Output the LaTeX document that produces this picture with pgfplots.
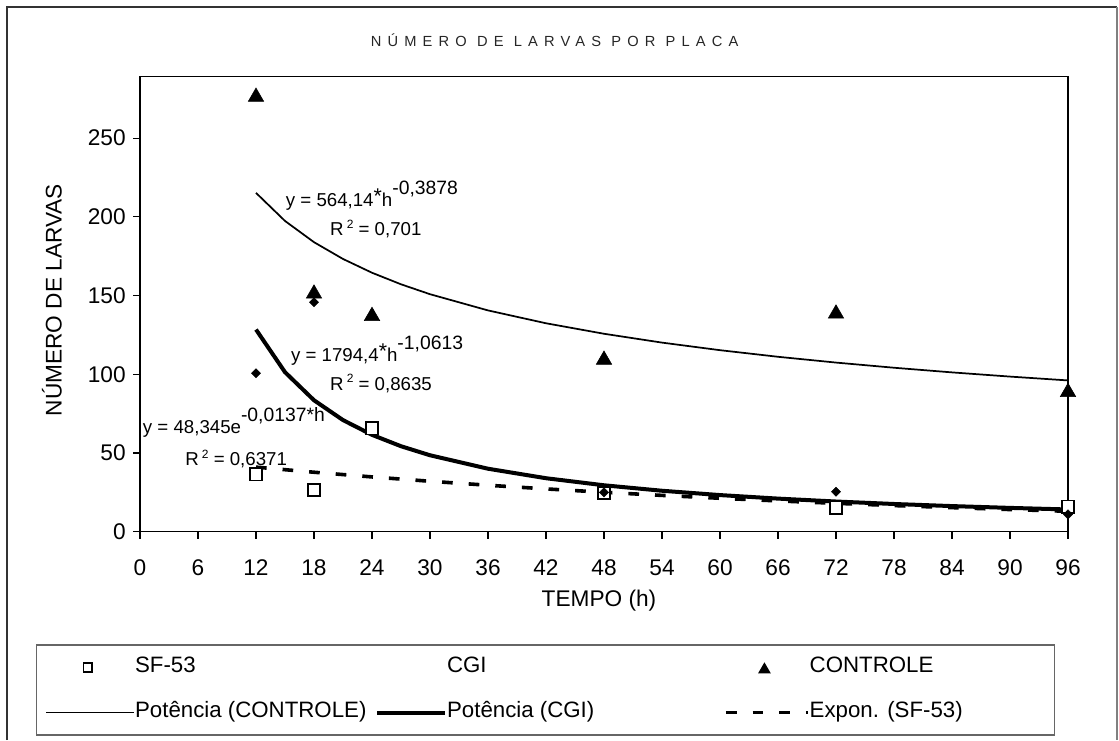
\documentclass[border=0pt]{standalone}
\usepackage{fontspec}
\setmainfont{Liberation Sans}
\usepackage{pgfplots}
\pgfplotsset{compat=1.18}

\newcommand{\eqfont}{\fontsize{14}{16}\selectfont}
\newcommand{\supfont}{\fontsize{14.5}{16}\selectfont}
\newcommand{\rsq}[1]{R\,\raisebox{5.5pt}{\fontsize{9}{10}\selectfont 2} = #1}
\newcommand{\pw}[2]{y = #1\raisebox{2.5pt}{\fontsize{16}{16}\selectfont*}h\raisebox{9.3pt}{\supfont #2}}

% legend images (widths follow the reference legend columns)
\pgfplotsset{
  legline/.style={legend image code/.code={\draw[##1] (0pt,0pt) -- (#1,0pt);}},
  legmark/.style 2 args={legend image code/.code={\path[draw=none] (0pt,0pt) -- (#1,0pt);
    \draw[##1, mark size=#2] plot coordinates {(0.47*#1,0pt)};}},
  legnone/.style={legend image code/.code={}},
}

\begin{document}
\begin{tikzpicture}
\path[use as bounding box] (0,0) rectangle (839.25pt,-555pt);
% chart frame
\draw[line width=1pt, black!80] (5.25pt,-555pt) -- (5.25pt,-5.25pt) -- (837.75pt,-5.25pt);
\draw[line width=1pt, black!50] (837.75pt,-5.25pt) -- (837.75pt,-555pt);
\node[font=\fontsize{11}{13}\selectfont\addfontfeatures{LetterSpace=42}, text=black!85]
  at (416pt,-30pt) {NÚMERO DE LARVAS POR PLACA};

\begin{axis}[
  at={(105pt,-398.775pt)}, anchor=south west,
  scale only axis, width=696pt, height=341.25pt,
  xmin=0, xmax=96, ymin=0, ymax=289,
  xtick={0,6,...,96}, ytick={0,50,...,250},
  tick align=outside, xtick pos=bottom, ytick pos=left,
  major tick length=5.25pt,
  tick style={black, line width=0.8pt},
  axis line style={black, line width=0.8pt},
  /pgf/number format/assume math mode=true,
  ticklabel style={font=\fontsize{17}{20}\selectfont},
  xticklabel style={yshift=-12pt},
  yticklabel style={xshift=-2pt},
  xlabel={TEMPO (h)}, ylabel={NÚMERO DE LARVAS},
  label style={font=\fontsize{17}{20}\selectfont},
  xlabel style={at={(axis description cs:0.4946,-0.152)}, anchor=center},
  ylabel style={at={(axis description cs:-0.0948,0.509)}, anchor=center},
  legend columns=3,
  legend cell align=left,
  legend style={at={(axis description cs:0.437,-0.3479)}, anchor=center,
    draw=black!60, line width=0.8pt, inner xsep=6.75pt, inner ysep=0pt,
    /tikz/column sep=0pt, /tikz/row sep=0pt,
    nodes={inner xsep=0pt, inner ysep=8.875pt, text height=12pt, text depth=4pt,
      anchor=west, font=\fontsize{16.7}{19}\selectfont}},
]
% trend lines
\addplot[forget plot, black, line width=1.3pt] coordinates {
  (12,215.22) (15,197.38) (18,183.90) (21,173.24) (24,164.49) (27,157.15)
  (30,150.86) (36,140.56) (42,132.40) (48,125.73) (54,120.11) (60,115.30)
  (66,111.11) (72,107.43) (78,104.15) (84,101.20) (90,98.53) (96,96.09)};
\addplot[forget plot, black, line width=3pt] coordinates {
  (12,128.41) (15,101.33) (18,83.50) (21,70.90) (24,61.53) (27,54.30)
  (30,48.56) (36,40.01) (42,33.98) (48,29.49) (54,26.02) (60,23.27)
  (66,21.03) (72,19.18) (78,17.61) (84,16.28) (90,15.13) (96,14.13)};
\addplot[forget plot, black, line width=2.7pt, dash pattern=on 8pt off 12pt] coordinates {
  (12,41.02) (18,37.78) (24,34.80) (30,32.05) (36,29.52) (42,27.19)
  (48,25.05) (54,23.07) (60,21.25) (66,19.57) (72,18.03) (78,16.61)
  (84,15.30) (90,14.09) (96,12.98)};

% data points
\addplot[only marks, mark=square*, mark size=4.6pt, line width=1.2pt,
  mark options={fill=white, draw=black}, legmark={66pt}{3.2pt}]
  coordinates {(12,36.5) (18,26.5) (24,65.7) (48,24.5) (72,15.3) (96,15.9)};
\addlegendentry{\makebox[180pt][l]{SF-53}}
\addplot[only marks, mark=diamond*, mark size=3.4pt,
  mark options={fill=black, draw=black, xscale=1.33}, legnone]
  coordinates {(12,100.7) (18,145.8) (48,25) (72,25.4) (96,11)};
\addlegendentry{\makebox[207.75pt][l]{CGI}}
\addplot[only marks, mark=triangle*, mark size=6.7pt,
  mark options={fill=black, draw=black, yshift=-1.6pt}, legmark={61.5pt}{4.7pt}]
  coordinates {(12,277.5) (18,152.5) (24,138.3) (48,110.5) (72,139.8) (96,90)};
\addlegendentry{\makebox[177pt][l]{CONTROLE}}
\addlegendimage{black, line width=1.3pt, legline=66pt}
\addlegendentry{\makebox[180pt][l]{Potência (CONTROLE)}}
\addlegendimage{black, line width=3pt, legline=51pt}
\addlegendentry{\makebox[207.75pt][l]{Potência (CGI)}}
\addlegendimage{black, line width=2.7pt, dash pattern=on 8pt off 12pt, legline=61.5pt}
\addlegendentry{\makebox[177pt][l]{Expon. (SF-53)}}

% trend line equations
\node[anchor=base west, inner sep=0pt, font=\eqfont] at (axis cs:15.07,206.5)
  {\pw{564,14}{-0,3878}};
\node[anchor=base west, inner sep=0pt, font=\eqfont] at (axis cs:19.65,187.9)
  {\rsq{0,701}};
\node[anchor=base west, inner sep=0pt, font=\eqfont] at (axis cs:15.6,108.0)
  {\pw{1794,4}{-1,0613}};
\node[anchor=base west, inner sep=0pt, font=\eqfont] at (axis cs:19.65,90.0)
  {\rsq{0,8635}};
\node[anchor=base west, inner sep=0pt, font=\eqfont] at (axis cs:0.28,62.1)
  {y = 48,345e\raisebox{9.3pt}{\supfont -0,0137*h}};
\node[anchor=base west, inner sep=0pt, font=\eqfont] at (axis cs:4.66,41.8)
  {\rsq{0,6371}};
\end{axis}
\end{tikzpicture}
\end{document}
